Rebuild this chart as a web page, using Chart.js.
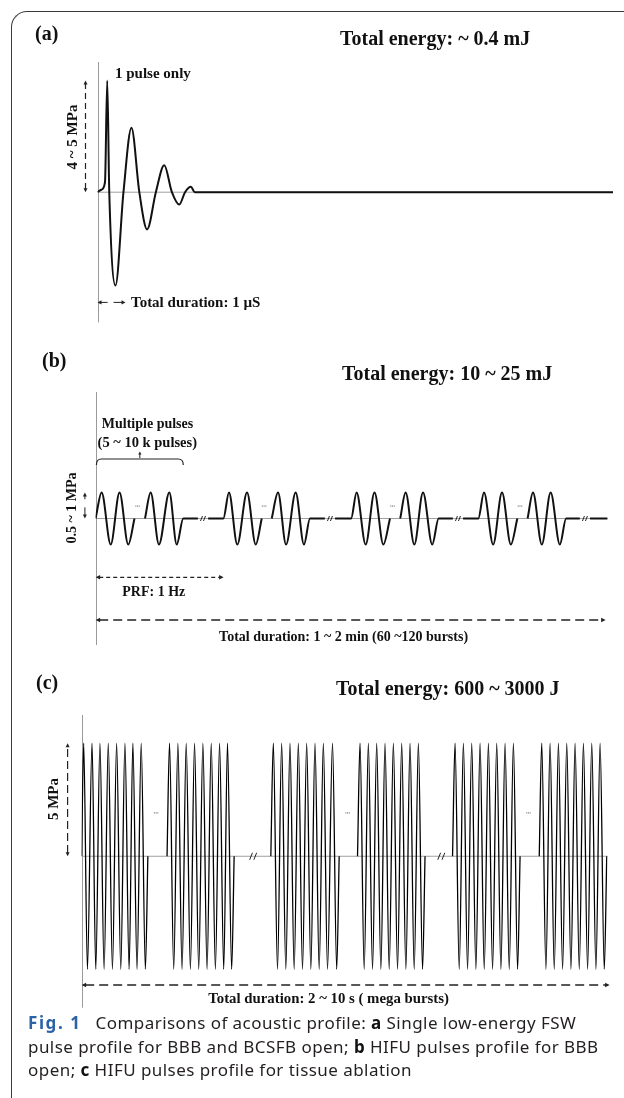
<!DOCTYPE html>
<html>
<head>
<meta charset="utf-8">
<script src="https://cdn.jsdelivr.net/npm/chart.js"></script>
<style>
  html, body { margin: 0; padding: 0; background: #fff; }
  body { width: 624px; height: 1098px; position: relative; overflow: hidden; }
  canvas { position: absolute; left: 0; top: 0; }
  .frame { position: absolute; left: 11px; top: 11px; width: 700px; height: 1200px;
           border-left: 1.5px solid #3a3a3a; border-top: 1.5px solid #3a3a3a; border-top-left-radius: 16px; }
  .t { position: absolute; font-family: "Liberation Serif", "Times New Roman", serif; font-weight: bold;
       white-space: nowrap; line-height: 1; color: #111; }
  .l { transform: translate(0, -50%); }
  .c { transform: translate(-50%, -50%); }
  .r { transform: translate(-50%, -50%) rotate(-90deg); }
  .cap { position: absolute; left: 28px; top: 1011px; font-family: "Noto Sans", sans-serif; font-size: 17px;
         letter-spacing: 0.45px; line-height: 23.5px; color: #231f20; white-space: nowrap; }
  .cap b { font-weight: bold; color: #111; }
  .cap .fig { display: inline-block; width: 67.5px; color: #2b63a6; letter-spacing: 1.6px; }
</style>
</head>
<body>
<div class="frame"></div>
<canvas id="chartA" width="624" height="1098"></canvas>
<canvas id="chartB" width="624" height="1098"></canvas>
<canvas id="chartC" width="624" height="1098"></canvas>

<div class="t l" style="left:35px;top:33px;font-size:20px">(a)</div>
<div class="t l" style="left:340px;top:38px;font-size:20px">Total energy: ~ 0.4 mJ</div>
<div class="t l" style="left:115px;top:73px;font-size:15px">1 pulse only</div>
<div class="t l" style="left:131px;top:302px;font-size:15px">Total duration: 1 µS</div>
<div class="t r" style="left:72px;top:137px;font-size:15px">4 ~ 5 MPa</div>

<div class="t l" style="left:42px;top:360px;font-size:20px">(b)</div>
<div class="t l" style="left:342px;top:373px;font-size:20px">Total energy: 10 ~ 25 mJ</div>
<div class="t c" style="left:147.5px;top:424px;font-size:14px">Multiple pulses</div>
<div class="t c" style="left:147.3px;top:441.5px;font-size:14.5px">(5 ~ 10 k pulses)</div>
<div class="t r" style="left:72px;top:507.5px;font-size:14px">0.5 ~ 1 MPa</div>
<div class="t c" style="left:153.8px;top:591.7px;font-size:14px">PRF: 1 Hz</div>
<div class="t c" style="left:343.6px;top:636.7px;font-size:14px">Total duration: 1 ~ 2 min (60 ~120 bursts)</div>

<div class="t l" style="left:36px;top:682px;font-size:20px">(c)</div>
<div class="t l" style="left:336px;top:688px;font-size:20px">Total energy: 600 ~ 3000 J</div>
<div class="t r" style="left:53px;top:799px;font-size:15px">5 MPa</div>
<div class="t c" style="left:328.6px;top:997.7px;font-size:14.8px">Total duration: 2 ~ 10 s ( mega bursts)</div>

<div class="cap">
  <b class="fig">Fig. 1</b>Comparisons of acoustic profile: <b>a</b> Single low-energy FSW<br>
  pulse profile for BBB and BCSFB open; <b>b</b> HIFU pulses profile for BBB<br>
  open; <b>c</b> HIFU pulses profile for tissue ablation
</div>

<script>
// (a) single low-energy FSW pulse: time in µs, pressure in MPa
var aTime = [0, 0.04, 0.077, 0.1, 0.121, 0.185, 0.267, 0.349, 0.43, 0.51, 0.6, 0.686, 0.765, 0.84, 0.9, 0.96, 1.0, 5.3];
var aPressure = [0, 0.1, 0.4, 4.5, 0, -3.76, 0, 2.6, 0, -1.5, 0, 1.09, 0, -0.5, 0, 0.22, 0, 0];

// (b) HIFU bursts for BBB opening: time in s, pressure in MPa
var bCrestTimes = [
    [0.047, 0.187, 0.43, 0.576],
    [1.042, 1.183, 1.425, 1.563],
    [2.039, 2.179, 2.422, 2.558],
    [3.034, 3.175, 3.417, 3.555]
];
var bTroughTimes = [
    [0.118, 0.255, 0.495, 0.634],
    [1.107, 1.251, 1.488, 1.628],
    [2.11, 2.248, 2.49, 2.63],
    [3.106, 3.244, 3.486, 3.627]
];
// start / end of the two pulse groups in every burst
var bGroupEdges = [
    [0.0, 0.304, 0.386, 0.685],
    [0.998, 1.298, 1.376, 1.675],
    [1.996, 2.3, 2.38, 2.68],
    [2.99, 3.295, 3.375, 3.676]
];
var bBreakTimes = [0.839, 1.831, 2.831, 3.823];
var bDotTimes = [0.327, 1.316, 2.319, 3.315];
var bPeak = 0.75;
var bPeriod = 1.0;
var bEnd = 4.0;

// (c) HIFU bursts for tissue ablation: time in µs, pressure in MPa
var cCrestTimes = [
    [0.25, 1.25, 2.2, 3.2, 4.2, 5.2, 6.15, 7.15],
    [10.55, 11.55, 12.55, 13.55, 14.55, 15.55, 16.55, 17.5],
    [23.0, 24.0, 25.0, 26.0, 27.0, 28.0, 29.0, 30.1],
    [33.4, 34.4, 35.4, 36.4, 37.4, 38.4, 39.4, 40.4],
    [44.8, 45.8, 46.8, 47.8, 48.8, 49.8, 50.8, 51.8],
    [55.2, 56.2, 57.2, 58.2, 59.2, 60.2, 61.2, 62.2]
];
var cTroughTimes = [
    [0.7, 1.7, 2.7, 3.7, 4.7, 5.7, 6.65, 7.65],
    [11.05, 12.05, 13.05, 14.05, 15.05, 16.05, 17.05, 18.0],
    [23.5, 24.5, 25.5, 26.5, 27.5, 28.5, 29.5, 30.6],
    [33.9, 34.9, 35.9, 36.9, 37.9, 38.9, 39.9, 40.9],
    [45.3, 46.3, 47.3, 48.3, 49.3, 50.3, 51.3, 52.3],
    [55.7, 56.7, 57.7, 58.7, 59.7, 60.7, 61.7, 62.7]
];
var cBurstEdges = [[0.0, 7.95], [10.25, 18.3], [22.7, 30.9], [33.1, 41.2], [44.5, 52.6], [54.9, 63.0]];
var cBreakTimes = [20.58, 43.15];
var cDotTimes = [8.93, 31.9, 53.6];
var cDotLevel = 1.92;
var cPeak = 5;
var cEnd = 63.1;

function pt(x, y) { return { x: x, y: y }; }

var aPoints = aTime.map(function (t, i) { return pt(t, aPressure[i]); });

var bPoints = [];
bGroupEdges.forEach(function (e, i) {
    var cr = bCrestTimes[i], tr = bTroughTimes[i], br = bBreakTimes[i];
    bPoints.push(pt(e[0], 0), pt(cr[0], bPeak), pt(tr[0], -bPeak), pt(cr[1], bPeak), pt(tr[1], -bPeak), pt(e[1], 0));
    bPoints.push(pt((e[1] + e[2]) / 2, null));
    bPoints.push(pt(e[2], 0), pt(cr[2], bPeak), pt(tr[2], -bPeak), pt(cr[3], bPeak), pt(tr[3], -bPeak), pt(e[3], 0));
    bPoints.push(pt(br - 0.04, 0), pt(br, null), pt(br + 0.04, 0));
});
bPoints.push(pt(bEnd, 0));

var cPoints = [];
cBurstEdges.forEach(function (e, i) {
    cPoints.push(pt(e[0], 0));
    cCrestTimes[i].forEach(function (t, k) {
        cPoints.push(pt(t, cPeak), pt(cTroughTimes[i][k], -cPeak));
    });
    cPoints.push(pt(e[1], 0), pt(e[1] + 0.5, null));
});

// ---- drawing helpers ----
function head(ctx, x, y, ux, uy, hl, hw) {
    ctx.beginPath();
    ctx.moveTo(x, y);
    ctx.lineTo(x - ux * hl - uy * hw, y - uy * hl + ux * hw);
    ctx.lineTo(x - ux * hl + uy * hw, y - uy * hl - ux * hw);
    ctx.closePath();
    ctx.fill();
}

function arrow(ctx, x1, y1, x2, y2, o) {
    o = o || {};
    var len = Math.hypot(x2 - x1, y2 - y1), ux = (x2 - x1) / len, uy = (y2 - y1) / len;
    var hl = o.head || 4.5, hw = o.half || 2.3;
    ctx.save();
    ctx.lineWidth = o.width || 1.2;
    ctx.setLineDash(o.dash || []);
    ctx.beginPath();
    ctx.moveTo(x1 + (o.both ? ux * hl * 0.8 : 0), y1 + (o.both ? uy * hl * 0.8 : 0));
    ctx.lineTo(x2 - ux * hl * 0.8, y2 - uy * hl * 0.8);
    ctx.stroke();
    ctx.setLineDash([]);
    head(ctx, x2, y2, ux, uy, hl, hw);
    if (o.both) head(ctx, x1, y1, -ux, -uy, hl, hw);
    ctx.restore();
}

function breakMark(ctx, x, y, w, h) {
    ctx.save();
    ctx.lineWidth = 1;
    ctx.beginPath();
    [-w * 0.3, w * 0.3].forEach(function (off) {
        ctx.moveTo(x + off - w * 0.2, y + h / 2);
        ctx.lineTo(x + off + w * 0.2, y - h / 2);
    });
    ctx.stroke();
    ctx.restore();
}

function dots(ctx, x, y) {
    ctx.save();
    ctx.fillStyle = '#777';
    for (var k = -1; k <= 1; k++) ctx.fillRect(x + k * 1.7 - 0.5, y - 0.5, 1.1, 1.1);
    ctx.restore();
}

// axis line and zero line behind every waveform
var axesPlugin = {
    id: 'axes',
    beforeDatasetsDraw: function (chart) {
        var ctx = chart.ctx, a = chart.chartArea, xs = chart.scales.x, ys = chart.scales.y;
        var x0 = Math.round(xs.getPixelForValue(0)) + 0.5, y0 = ys.getPixelForValue(0);
        ctx.save();
        ctx.lineWidth = 1;
        ctx.strokeStyle = '#a0a0a0';
        ctx.beginPath(); ctx.moveTo(x0, y0); ctx.lineTo(a.right, y0); ctx.stroke();
        ctx.strokeStyle = '#9a9a9a';
        ctx.beginPath(); ctx.moveTo(x0, a.top); ctx.lineTo(x0, a.bottom); ctx.stroke();
        ctx.restore();
    }
};

function extrasA(chart) {
    var ctx = chart.ctx, a = chart.chartArea, xs = chart.scales.x, ys = chart.scales.y;
    var x0 = xs.getPixelForValue(0), y0 = ys.getPixelForValue(0);
    ctx.save();
    ctx.strokeStyle = ctx.fillStyle = '#222';
    arrow(ctx, x0 - 12, y0, x0 - 12, ys.getPixelForValue(Math.max.apply(null, aPressure)), { dash: [6, 4], both: true, head: 4, half: 2 });
    var yd = a.bottom - 20;
    arrow(ctx, xs.getPixelForValue(0.104), yd, x0, yd, { width: 1, head: 4, half: 2.2 });
    arrow(ctx, xs.getPixelForValue(0.165), yd, xs.getPixelForValue(0.288), yd, { width: 1, head: 4, half: 2.2 });
    ctx.restore();
}

function extrasB(chart) {
    var ctx = chart.ctx, a = chart.chartArea, xs = chart.scales.x, ys = chart.scales.y;
    var x0 = xs.getPixelForValue(0), y0 = ys.getPixelForValue(0), yTop = ys.getPixelForValue(bPeak);
    ctx.save();
    ctx.strokeStyle = ctx.fillStyle = '#222';
    // amplitude arrow
    arrow(ctx, x0 - 10.7, y0, x0 - 10.7, yTop, { dash: [8, 8], both: true, head: 4, half: 2, width: 1 });
    // bracket over the first burst
    var bl = xs.getPixelForValue(bGroupEdges[0][0]) + 0.8, brx = xs.getPixelForValue(bGroupEdges[0][3]);
    var top = yTop - 33.5, mid = (bl + brx) / 2;
    ctx.lineWidth = 1.2;
    ctx.beginPath();
    ctx.moveTo(bl, top + 6);
    ctx.quadraticCurveTo(bl, top, bl + 5, top);
    ctx.lineTo(brx - 5, top);
    ctx.quadraticCurveTo(brx, top, brx, top + 6);
    ctx.stroke();
    arrow(ctx, mid, top - 1, mid, top - 7.5, { width: 1, head: 3, half: 1.6 });
    // breaks and dots
    ctx.lineWidth = 1;
    bBreakTimes.forEach(function (t) { breakMark(ctx, xs.getPixelForValue(t), y0, 5, 5); });
    bDotTimes.forEach(function (t) { dots(ctx, xs.getPixelForValue(t), ys.getPixelForValue(0.36)); });
    // PRF and total duration arrows
    arrow(ctx, x0, a.bottom - 67.7, xs.getPixelForValue(bPeriod), a.bottom - 67.7, { dash: [4, 3], both: true, head: 4.5, half: 2.2, width: 1.3 });
    arrow(ctx, x0, a.bottom - 25, xs.getPixelForValue(bEnd) - 2, a.bottom - 25, { dash: [9, 5], both: true, head: 4.5, half: 2.2, width: 1.4 });
    ctx.restore();
}

function extrasC(chart) {
    var ctx = chart.ctx, a = chart.chartArea, xs = chart.scales.x, ys = chart.scales.y;
    var x0 = xs.getPixelForValue(0), y0 = ys.getPixelForValue(0);
    ctx.save();
    ctx.strokeStyle = ctx.fillStyle = '#222';
    arrow(ctx, x0 - 14, y0, x0 - 14, ys.getPixelForValue(cPeak), { dash: [8, 4], both: true, head: 4, half: 2, width: 1.2 });
    cBreakTimes.forEach(function (t) { breakMark(ctx, xs.getPixelForValue(t), y0, 7, 7); });
    cDotTimes.forEach(function (t) { dots(ctx, xs.getPixelForValue(t), ys.getPixelForValue(cDotLevel)); });
    arrow(ctx, x0, a.bottom - 22.7, a.right + 2, a.bottom - 22.7, { dash: [9, 5], both: true, head: 4.5, half: 2.2, width: 1.4 });
    ctx.restore();
}

function drawChart(id, points, xRange, yRange, pad, lineWidth, lineColor, extras) {
    return new Chart(document.getElementById(id).getContext('2d'), {
        type: 'line',
        data: {
            datasets: [{
                data: points,
                borderColor: lineColor,
                borderWidth: lineWidth,
                pointRadius: 0,
                fill: false,
                spanGaps: false,
                cubicInterpolationMode: 'monotone'
            }]
        },
        options: {
            responsive: false,
            animation: false,
            devicePixelRatio: 1,
            events: [],
            layout: { padding: pad },
            plugins: { legend: { display: false }, tooltip: { enabled: false } },
            scales: {
                x: { type: 'linear', min: xRange[0], max: xRange[1], display: false },
                y: { type: 'linear', min: yRange[0], max: yRange[1], display: false }
            }
        },
        plugins: [axesPlugin, { id: 'extras', afterDatasetsDraw: extras }]
    });
}

drawChart('chartA', aPoints, [0, 5.3], [-5.25, 5.25], { left: 97.5, right: 11, top: 62, bottom: 775.6 }, 2, '#111', extrasA);
drawChart('chartB', bPoints, [0, bEnd], [-3.65, 3.65], { left: 95.6, right: 16.4, top: 392, bottom: 453 }, 2, '#111', extrasB);
drawChart('chartC', cPoints, [0, cEnd], [-6.7, 6.25], { left: 81.6, right: 16.4, top: 715, bottom: 90.3 }, 1.3, '#000', extrasC);
</script>
</body>
</html>
